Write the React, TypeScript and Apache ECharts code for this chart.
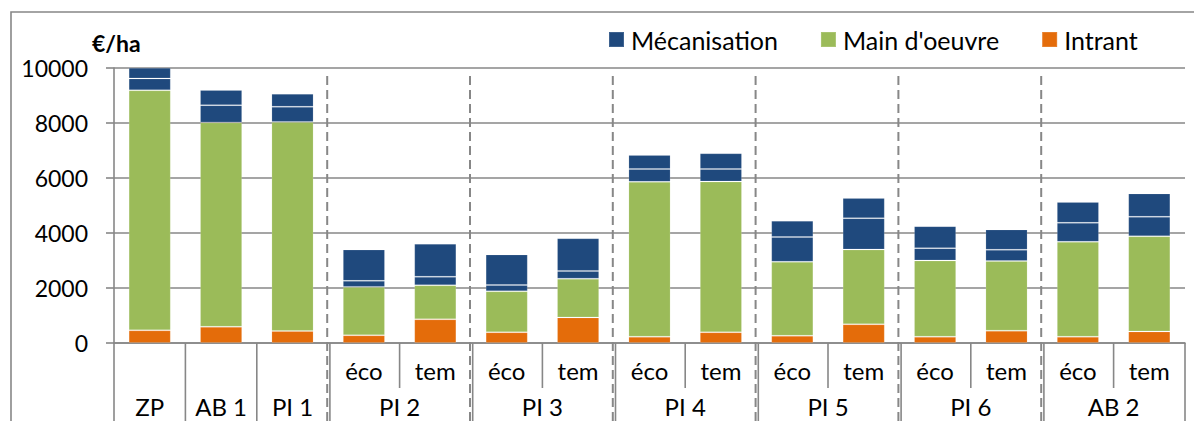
import { useEffect, useRef } from "react";
import * as echarts from "echarts";

// Groups along the x axis; groups of size 2 are split into "éco" / "tem" bars
const groups = ["ZP", "AB 1", "PI 1", "PI 2", "PI 3", "PI 4", "PI 5", "PI 6", "AB 2"];
const groupSizes = [1, 1, 1, 2, 2, 2, 2, 2, 2];
const subNames = ["éco", "tem"];

// Costs in €/ha, one value per bar (left to right)
const intrant = [460, 590, 440, 280, 860, 390, 930, 230, 390, 265, 680, 230, 450, 230, 420];
const mainOeuvre = [8730, 7430, 7600, 1760, 1240, 1490, 1410, 5630, 5480, 2690, 2720, 2770, 2530, 3450, 3460];
const mecaPart1 = [430, 630, 550, 220, 310, 230, 280, 470, 460, 900, 1140, 450, 410, 690, 710];
const mecaPart2 = [390, 550, 470, 1140, 1200, 1110, 1190, 510, 570, 590, 730, 800, 740, 760, 850];

const yMin = 0;
const yMax = 10000;
const yStep = 2000;

const categories: string[] = [];
const subLabels: string[] = [];
groups.forEach((g, gi) => {
  if (groupSizes[gi] === 1) {
    categories.push(g);
    subLabels.push("");
  } else {
    subNames.forEach((s) => {
      categories.push(`${g} ${s}`);
      subLabels.push(s);
    });
  }
});

const FONT = "Lato, 'Noto Sans', sans-serif";
const GRAY = "#878787";
const BLUE = "#1f497d";
const GREEN = "#9bbb59";
const ORANGE = "#e46c0a";

export default function App() {
  const ref = useRef<HTMLDivElement>(null);

  useEffect(() => {
    if (!ref.current) return;
    const chart = echarts.init(ref.current, undefined, { renderer: "svg" });

    const barStyle = (color: string) => ({
      color,
      borderColor: "rgba(255,255,255,0.14)",
      borderWidth: 1,
    });

    chart.setOption({
      animation: false,
      textStyle: { fontFamily: FONT },
      grid: { left: 114, right: 9, top: 68, bottom: 78 },
      legend: {
        data: ["Mécanisation", "Main d'oeuvre", "Intrant"],
        left: 608,
        top: 27,
        padding: 0,
        icon: "rect",
        itemWidth: 15,
        itemHeight: 15,
        itemGap: 42,
        textStyle: { fontSize: 25, color: "#000", fontFamily: FONT, padding: [0, 0, 0, 2] },
      },
      xAxis: {
        type: "category",
        data: categories,
        axisLabel: { show: false },
        axisTick: { show: false },
        axisLine: { lineStyle: { color: GRAY, width: 1.6 } },
      },
      yAxis: {
        type: "value",
        min: yMin,
        max: yMax,
        interval: yStep,
        axisLine: { show: true, lineStyle: { color: GRAY, width: 1.6 } },
        axisTick: { show: true, length: 8, lineStyle: { color: GRAY, width: 1.6 } },
        splitLine: { lineStyle: { color: GRAY, width: 1.6 } },
        axisLabel: {
          fontSize: 23,
          color: "#000",
          margin: 26,
          fontFamily: FONT,
          formatter: (v: number) => String(v),
        },
      },
      series: [
        { name: "Intrant", type: "bar", stack: "total", barWidth: "59%", data: intrant, itemStyle: barStyle(ORANGE) },
        { name: "Main d'oeuvre", type: "bar", stack: "total", data: mainOeuvre, itemStyle: barStyle(GREEN) },
        { name: "Mécanisation", type: "bar", stack: "total", data: mecaPart1, itemStyle: barStyle(BLUE) },
        { name: "Mécanisation", type: "bar", stack: "total", data: mecaPart2, itemStyle: barStyle(BLUE) },
      ],
    });

    // Multi-level category axis, drawn from the axis scale
    const x0 = chart.convertToPixel({ xAxisIndex: 0 }, 0) as number;
    const x1 = chart.convertToPixel({ xAxisIndex: 0 }, 1) as number;
    const band = x1 - x0;
    const yZero = chart.convertToPixel({ yAxisIndex: 0 }, yMin) as number;
    const yTopPx = chart.convertToPixel({ yAxisIndex: 0 }, yMax) as number;
    const edge = (k: number) => x0 - band / 2 + k * band;
    const bottom = 440;

    const lineEl = (x: number, ya: number, yb: number, dashed = false) => ({
      type: "line",
      z: 100,
      silent: true,
      shape: { x1: x, y1: ya, x2: x, y2: yb },
      style: dashed
        ? { stroke: GRAY, lineWidth: 2, lineDash: [9, 5] }
        : { stroke: GRAY, lineWidth: 1.6 },
    });

    const textEl = (x: number, y: number, text: string, extra: object = {}) => ({
      type: "text",
      z: 100,
      silent: true,
      x,
      y,
      style: {
        text,
        fill: "#000",
        font: `24px ${FONT}`,
        align: "center",
        verticalAlign: "middle",
        ...extra,
      },
    });

    const graphics: any[] = [];
    // outer frame
    graphics.push({
      type: "rect",
      z: 0,
      silent: true,
      shape: { x: 11, y: 12, width: 1400, height: 600 },
      style: { fill: "none", stroke: GRAY, lineWidth: 1.6 },
    });
    // unit label
    graphics.push({
      type: "text",
      z: 100,
      silent: true,
      x: 92,
      y: 43,
      style: { text: "€/ha", fill: "#000", font: `bold 23px ${FONT}`, align: "left", verticalAlign: "middle" },
    });

    graphics.push(lineEl(edge(0), yZero, bottom));
    let s = 0;
    groups.forEach((g, gi) => {
      const n = groupSizes[gi];
      const cx = (edge(s) + edge(s + n)) / 2;
      graphics.push(textEl(cx, 418, g, { verticalAlign: "bottom" }));
      if (n === 2) {
        graphics.push(textEl(x0 + s * band, 370, subLabels[s]));
        graphics.push(textEl(x0 + (s + 1) * band, 370, subLabels[s + 1]));
        graphics.push(lineEl(edge(s + 1), yZero, 388));
      }
      const e = edge(s + n);
      const isLast = gi === groups.length - 1;
      const nextIsPair = !isLast && groupSizes[gi + 1] === 2;
      if (nextIsPair) {
        graphics.push(lineEl(e - 1, yTopPx + 8, bottom, true));
        graphics.push(lineEl(e + 1.7, yZero, bottom));
      } else {
        graphics.push(lineEl(e, yZero, bottom));
      }
      s += n;
    });

    chart.setOption({ graphic: graphics });

    return () => chart.dispose();
  }, []);

  return (
    <div
      ref={ref}
      style={{ position: "fixed", left: 0, top: 0, width: 1194, height: 421, background: "#fff" }}
    />
  );
}
